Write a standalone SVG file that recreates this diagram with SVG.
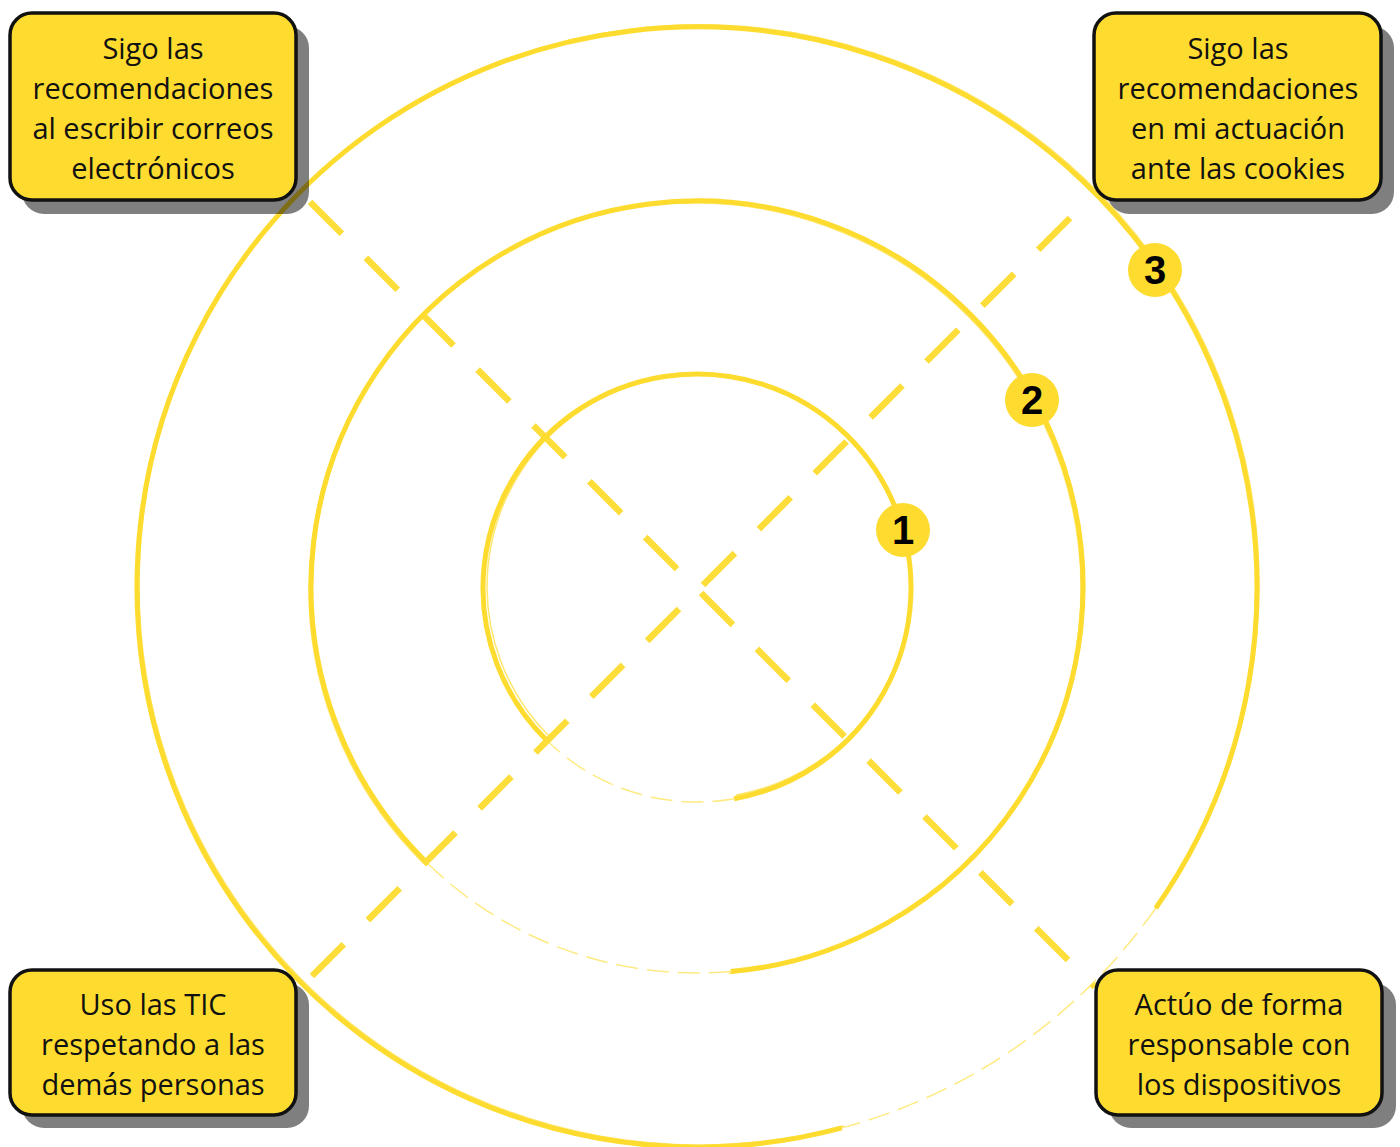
<svg xmlns="http://www.w3.org/2000/svg" width="1400" height="1147" viewBox="0 0 1400 1147">
<style>
.ring{fill:none;stroke:#FDDC2F;stroke-width:5}
.ring2{fill:none;stroke:#FDDC2F;stroke-width:1.5;opacity:0.7}
.faint{fill:none;stroke:#FDDC2F;stroke-width:1.5;opacity:0.6;stroke-dasharray:22 9}
.dash{stroke:#FDDC2F;stroke-width:6.5;stroke-dasharray:45 34;opacity:0.95}
.shadow{fill:#000;opacity:0.5}
.box{fill:#FDDC2F;stroke:#111;stroke-width:3.5}
.lbl{font-family:"Open Sans","Liberation Sans",Arial,sans-serif;font-size:29px;fill:#111;text-anchor:middle}
.badge{fill:#FDDC2F}
.num{font-family:"Liberation Sans",Arial,sans-serif;font-size:40px;font-weight:bold;fill:#000;text-anchor:middle}
</style>
<rect width="1400" height="1147" fill="#fff"/>
<g id="connectors">
<line class="dash" x1="310" y1="202" x2="1095" y2="987"/>
<line class="dash" x1="312" y1="976" x2="1092" y2="196"/>
</g>
<g id="rings">
<path class="ring" d="M 545.7 739.3 A 214 214 0 1 1 734.2 798.7"/>
<path class="faint" d="M 734.2 798.7 A 214 214 0 0 1 545.7 739.3"/>
<path class="ring2" d="M 548 737 A 212 212 0 1 1 735 796" transform="translate(1 -1)"/>
<path class="ring" d="M 424.1 859.9 A 386 386 0 1 1 730.7 971.5"/>
<path class="faint" d="M 730.7 971.5 A 386 386 0 0 1 424.1 859.9"/>
<path class="ring2" d="M 424.1 859.9 A 386 386 0 1 1 730.7 971.5" transform="translate(-2 2)"/>
<path class="ring" d="M 841.9 1127.9 A 560 560 0 1 1 1155.7 908.2"/>
<path class="faint" d="M 1155.7 908.2 A 560 560 0 0 1 841.9 1127.9"/>
<path class="ring2" d="M 841.9 1127.9 A 560 560 0 1 1 1155.7 908.2" transform="translate(2 -2)"/>
</g>
<g id="badge1"><circle class="badge" cx="903" cy="530" r="27"/><text class="num" x="903" y="544">1</text></g>
<g id="badge2"><circle class="badge" cx="1032" cy="400" r="27"/><text class="num" x="1032" y="414">2</text></g>
<g id="badge3"><circle class="badge" cx="1155" cy="270" r="27"/><text class="num" x="1155" y="284">3</text></g>
<g id="box-tl">
<rect class="shadow" x="22" y="26" width="287" height="188" rx="22"/>
<rect class="box" x="10" y="13" width="286" height="187" rx="22"/>
<text class="lbl" x="153" y="59">Sigo las</text>
<text class="lbl" x="153" y="99">recomendaciones</text>
<text class="lbl" x="153" y="139">al escribir correos</text>
<text class="lbl" x="153" y="179">electrónicos</text>
</g>
<g id="box-tr">
<rect class="shadow" x="1107" y="26" width="287" height="188" rx="22"/>
<rect class="box" x="1094" y="13" width="287" height="187" rx="22"/>
<text class="lbl" x="1238" y="59">Sigo las</text>
<text class="lbl" x="1238" y="99">recomendaciones</text>
<text class="lbl" x="1238" y="139">en mi actuación</text>
<text class="lbl" x="1238" y="179">ante las cookies</text>
</g>
<g id="box-bl">
<rect class="shadow" x="22" y="983" width="287" height="145" rx="22"/>
<rect class="box" x="10" y="970" width="286" height="145" rx="22"/>
<text class="lbl" x="153" y="1015">Uso las TIC</text>
<text class="lbl" x="153" y="1055">respetando a las</text>
<text class="lbl" x="153" y="1095">demás personas</text>
</g>
<g id="box-br">
<rect class="shadow" x="1109" y="983" width="287" height="145" rx="22"/>
<rect class="box" x="1096" y="970" width="286" height="145" rx="22"/>
<text class="lbl" x="1239" y="1015">Actúo de forma</text>
<text class="lbl" x="1239" y="1055">responsable con</text>
<text class="lbl" x="1239" y="1095">los dispositivos</text>
</g>
</svg>
